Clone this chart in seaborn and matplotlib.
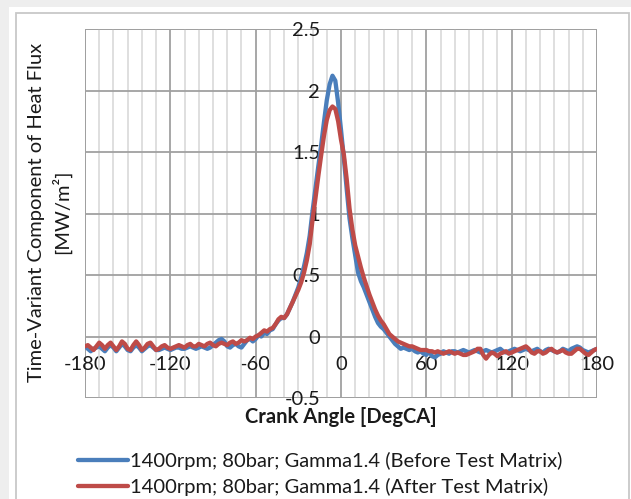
import matplotlib
matplotlib.use("Agg")
import matplotlib.pyplot as plt
from matplotlib.patches import Rectangle
from matplotlib.ticker import MultipleLocator
import seaborn as sns
import pandas as pd

# ---------------- data ----------------
crank_angle = list(range(-180, 181, 2))  # sample grid, degCA

series_names = [
    "1400rpm; 80bar; Gamma1.4 (Before Test Matrix)",
    "1400rpm; 80bar; Gamma1.4 (After Test Matrix)",
]

flux_before = [
    # -180 .. -62
    -0.08, -0.10, -0.12, -0.10, -0.09, -0.08, -0.10, -0.12, -0.09, -0.07,
    -0.09, -0.12, -0.09, -0.06, -0.08, -0.11, -0.12, -0.09, -0.07, -0.09,
    -0.12, -0.10, -0.08, -0.07, -0.09, -0.11, -0.11, -0.10, -0.09, -0.10,
    -0.11, -0.10, -0.09, -0.09, -0.10, -0.10, -0.09, -0.08, -0.09, -0.10,
    -0.09, -0.08, -0.09, -0.10, -0.09, -0.07, -0.05, -0.03, -0.02, -0.04,
    -0.08, -0.09, -0.07, -0.06, -0.08, -0.09, -0.06, -0.03, -0.02, -0.04,
    # -60 .. 48
    -0.02, 0.01, 0.00, 0.03, 0.02, 0.05, 0.06, 0.10, 0.13, 0.15,
    0.15, 0.18, 0.23, 0.28, 0.34, 0.40, 0.48, 0.57, 0.68, 0.82,
    1.02, 1.20, 1.38, 1.55, 1.74, 1.92, 2.05, 2.12, 2.08, 1.90,
    1.68, 1.45, 1.20, 0.96, 0.80, 0.66, 0.52, 0.45, 0.40, 0.34,
    0.28, 0.22, 0.16, 0.11, 0.08, 0.06, 0.03, 0.00, -0.03, -0.06,
    -0.08, -0.10, -0.09, -0.10, -0.11,
    # 50 .. 180
    -0.10, -0.12, -0.13, -0.12, -0.14, -0.15, -0.12, -0.16, -0.17, -0.15,
    -0.14, -0.12, -0.13, -0.14, -0.12, -0.12, -0.13, -0.12, -0.11, -0.12,
    -0.13, -0.12, -0.11, -0.12, -0.13, -0.12, -0.11, -0.12, -0.13, -0.12,
    -0.11, -0.10, -0.12, -0.13, -0.12, -0.11, -0.10, -0.11, -0.12, -0.11,
    -0.10, -0.11, -0.12, -0.11, -0.10, -0.12, -0.13, -0.11, -0.10, -0.11,
    -0.12, -0.13, -0.12, -0.10, -0.11, -0.12, -0.10, -0.09, -0.08, -0.09,
    -0.11, -0.12, -0.13, -0.12, -0.11, -0.10,
]

flux_after = [
    # -180 .. -62
    -0.08, -0.07, -0.09, -0.11, -0.08, -0.05, -0.07, -0.10, -0.07, -0.05,
    -0.08, -0.11, -0.08, -0.04, -0.06, -0.10, -0.11, -0.07, -0.04, -0.07,
    -0.11, -0.09, -0.06, -0.05, -0.08, -0.11, -0.10, -0.08, -0.07, -0.09,
    -0.10, -0.09, -0.08, -0.07, -0.08, -0.09, -0.07, -0.06, -0.08, -0.08,
    -0.06, -0.07, -0.08, -0.06, -0.05, -0.07, -0.08, -0.06, -0.05, -0.06,
    -0.07, -0.05, -0.04, -0.06, -0.05, -0.03, -0.04, -0.03, -0.01, -0.02,
    # -60 .. 48
    0.00, 0.01, 0.03, 0.05, 0.04, 0.06, 0.07, 0.10, 0.14, 0.16,
    0.15, 0.18, 0.23, 0.28, 0.33, 0.38, 0.44, 0.52, 0.62, 0.75,
    0.95, 1.12, 1.30, 1.47, 1.63, 1.76, 1.84, 1.87, 1.85, 1.75,
    1.60, 1.48, 1.28, 1.04, 0.87, 0.74, 0.65, 0.56, 0.48, 0.41,
    0.34, 0.28, 0.22, 0.17, 0.13, 0.10, 0.06, 0.02, 0.00, -0.02,
    -0.04, -0.05, -0.06, -0.07, -0.08,
    # 50 .. 180
    -0.08, -0.09, -0.10, -0.11, -0.11, -0.11, -0.12, -0.12, -0.13, -0.12,
    -0.13, -0.14, -0.13, -0.12, -0.13, -0.14, -0.13, -0.14, -0.15, -0.15,
    -0.14, -0.13, -0.12, -0.10, -0.10, -0.15, -0.18, -0.15, -0.13, -0.14,
    -0.16, -0.14, -0.13, -0.12, -0.14, -0.13, -0.12, -0.11, -0.10, -0.09,
    -0.08, -0.10, -0.13, -0.14, -0.12, -0.12, -0.14, -0.13, -0.11, -0.10,
    -0.12, -0.13, -0.12, -0.11, -0.13, -0.14, -0.14, -0.12, -0.10, -0.10,
    -0.12, -0.14, -0.15, -0.13, -0.11, -0.10,
]

x_ticks = [-180, -120, -60, 0, 60, 120, 180]
y_ticks = [-0.5, 0, 0.5, 1, 1.5, 2, 2.5]
x_tick_labels = ["-180", "-120", "-60", "0", "60", "120", "180"]
y_tick_labels = ["-0.5", "0", "0.5", "1", "1.5", "2", "2.5"]
y_title_lines = ["Time-Variant Component of Heat Flux", "[MW/m²]"]

assert len(flux_before) == len(crank_angle) == len(flux_after)

df = pd.concat([
    pd.DataFrame({"angle": crank_angle, "flux": flux_before, "series": series_names[0]}),
    pd.DataFrame({"angle": crank_angle, "flux": flux_after, "series": series_names[1]}),
])

# ---------------- style ----------------
sns.set_style("white")
plt.rcParams["font.family"] = ["Lato", "DejaVu Sans"]
FS = 14.5

fig = plt.figure(figsize=(6.31, 4.99), dpi=100, facecolor="#eeeeee")
# white card + thin border (screenshot frame)
fig.patches.append(Rectangle((9 / 631, 0), 1, 1 - 7 / 499, transform=fig.transFigure,
                             facecolor="white", edgecolor="none", zorder=-2))
fig.patches.append(Rectangle((16 / 631, -0.05), 613 / 631, 0.05 + 1 - 13 / 499,
                             transform=fig.transFigure, facecolor="none",
                             edgecolor="#c8c8c8", linewidth=1.3, zorder=-1))

ax = fig.add_axes([85 / 631, 1 - 398 / 499, 512 / 631, 369 / 499])
ax.set_facecolor("none")

palette = {series_names[0]: "#4a7ebb", series_names[1]: "#be4b48"}
sns.lineplot(data=df, x="angle", y="flux", hue="series", palette=palette,
             estimator=None, sort=False, linewidth=3.1, ax=ax)

ax.set_xlim(-180, 180)
ax.set_ylim(-0.5, 2.5)

# grid
ax.xaxis.set_minor_locator(MultipleLocator(10))
ax.set_xticks(x_ticks)
ax.set_yticks(y_ticks)
ax.grid(which="minor", axis="x", color="#d9d9d9", linewidth=1.2)
ax.grid(which="major", axis="both", color="#a0a0a0", linewidth=1.3)
ax.set_axisbelow(True)

# tick labels sit on the zero lines
ax.spines["left"].set_position(("data", 0))
ax.spines["bottom"].set_position(("data", 0))
for s in ax.spines.values():
    s.set_visible(False)
ax.add_patch(Rectangle((0, 0), 1, 1, transform=ax.transAxes, fill=False,
                       edgecolor="#a0a0a0", linewidth=1.3, zorder=0.5))

ax.set_xticklabels(x_tick_labels, fontsize=FS, color="#1a1a1a")
ax.set_yticklabels(y_tick_labels, fontsize=FS, color="#1a1a1a")
ax.tick_params(axis="x", which="both", length=0, pad=14)
ax.tick_params(axis="y", which="both", length=0, pad=15)
ax.tick_params(axis="x", which="minor", labelbottom=False)

ax.set_xlabel("")
ax.set_ylabel("")
fig.text(341 / 631, 1 - 417 / 499, "Crank Angle [DegCA]", ha="center", va="center",
         fontsize=FS, fontweight="bold", color="#1a1a1a")
fig.text(37 / 631, 1 - 212 / 499, y_title_lines[0], rotation=90, ha="center",
         va="center", fontsize=FS, color="#1a1a1a")
fig.text(61 / 631, 1 - 212 / 499, y_title_lines[1], rotation=90, ha="center",
         va="center", fontsize=FS, color="#1a1a1a")

# legend below
handles, labels = ax.get_legend_handles_labels()
ax.get_legend().remove()
fig.legend(handles, labels, loc="upper left", bbox_to_anchor=(78 / 631, 1 - 452 / 499),
           frameon=False, fontsize=FS, handlelength=2.5, handletextpad=0.1,
           borderpad=0, borderaxespad=0, labelspacing=0.38, labelcolor="#1a1a1a")

fig.savefig("out.png", dpi=100, facecolor=fig.get_facecolor())
